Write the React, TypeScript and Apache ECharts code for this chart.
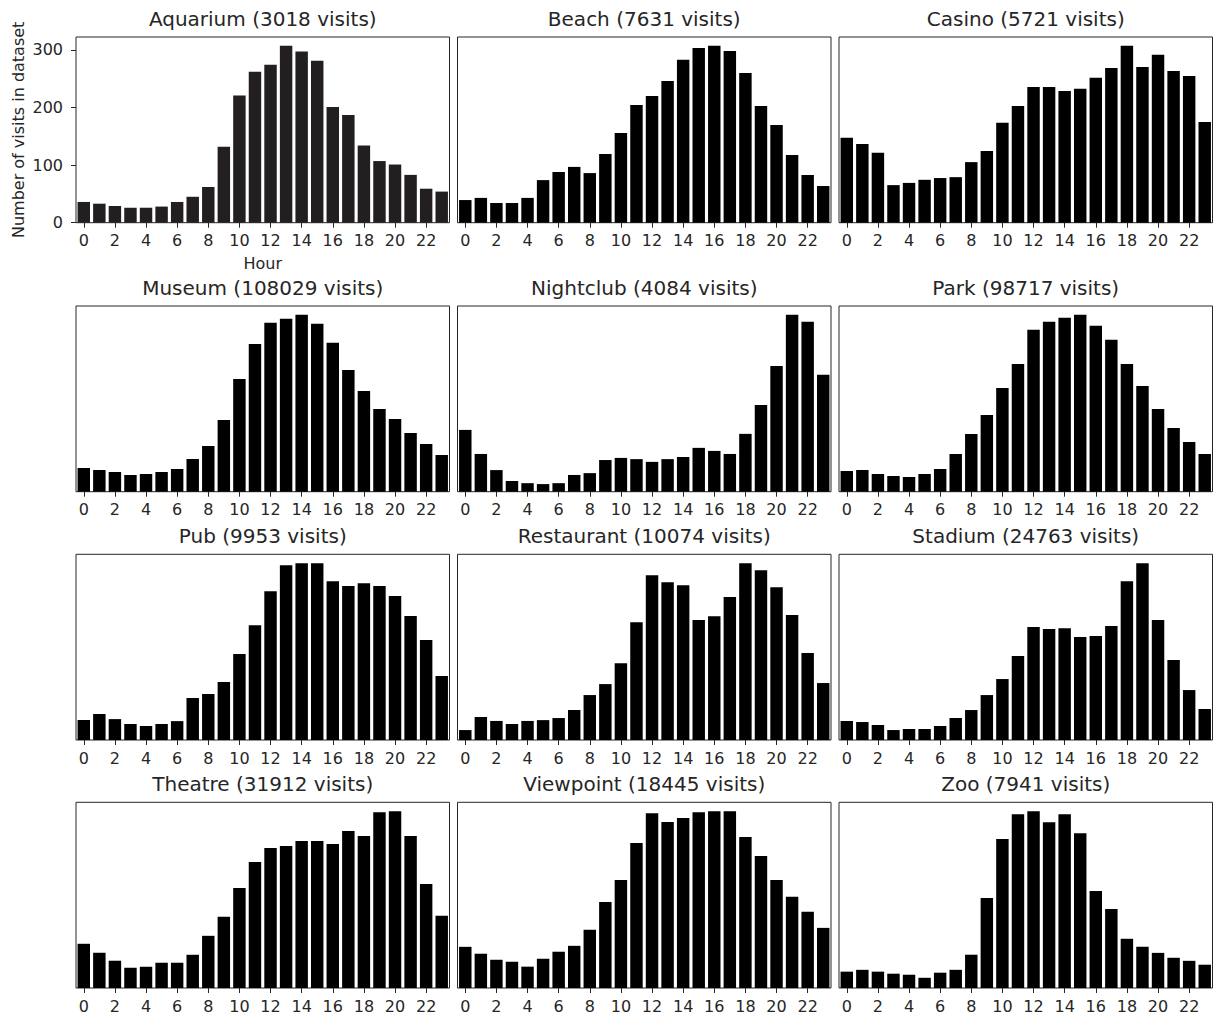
import React, { useEffect, useRef } from 'react';
import * as echarts from 'echarts';

const hours = ['0','1','2','3','4','5','6','7','8','9','10','11','12','13','14','15','16','17','18','19','20','21','22','23'];
const places = ['Aquarium','Beach','Casino','Museum','Nightclub','Park','Pub','Restaurant','Stadium','Theatre','Viewpoint','Zoo'];
const totals = [3018, 7631, 5721, 108029, 4084, 98717, 9953, 10074, 24763, 31912, 18445, 7941];

const aquarium = [36,33,29,26,26,28,36,45,62,132,221,262,274,307,297,281,201,187,134,107,101,83,59,54];
const beach = [84,92,73,73,92,158,188,207,184,255,333,437,470,526,604,648,656,637,555,433,362,251,177,136];
const casino = [192,178,158,85,90,97,101,103,137,162,226,264,307,307,298,303,328,350,400,352,380,343,332,228];
const museum = [1341,1227,1114,944,1001,1114,1284,1851,2587,4060,6382,8365,9555,9781,10008,9498,8422,6892,5703,4683,4116,3323,2700,2077];
const nightclub = [203,124,71,35,28,25,28,55,61,104,111,107,98,107,114,144,134,124,190,285,413,581,558,384];
const park = [1020,1069,872,773,724,872,1119,1859,2846,3784,5117,6301,7980,8375,8572,8720,8177,7486,6301,5216,4080,3143,2452,1859];
const pub = [90,117,94,72,63,72,85,189,207,261,387,517,670,787,796,796,715,693,706,693,648,558,450,288];
const restaurant = [48,111,92,77,92,96,106,145,217,270,371,569,796,762,747,579,598,690,854,820,738,603,420,275];
const stadium = [292,276,230,153,169,169,215,338,460,690,936,1289,1734,1703,1718,1580,1596,1749,2439,2716,1841,1227,767,476];
const theatre = [616,491,380,282,296,352,352,463,727,991,1394,1755,1950,1977,2047,2047,2005,2186,2116,2450,2464,2116,1450,1005];
const viewpoint = [328,273,225,209,170,233,289,336,464,686,861,1155,1393,1322,1354,1401,1409,1409,1203,1052,861,726,607,479];
const zoo = [80,89,80,70,65,50,75,89,163,441,729,851,866,812,851,758,475,387,241,202,172,148,133,114];

const yTicks = [0, 100, 200, 300];
const allData = [aquarium, beach, casino, museum, nightclub, park, pub, restaurant, stadium, theatre, viewpoint, zoo];

const FONT = 'DejaVu Sans';
const INK = '#262626';

export default function App() {
  const ref = useRef<HTMLDivElement>(null);
  useEffect(() => {
    if (!ref.current) return;
    const chart = echarts.init(ref.current, null, { renderer: 'svg' });
    const colLefts = [76, 457.5, 839];
    const rowTops = [37, 306, 554.3, 802.3];
    const W = 373.5;
    const H = 185.7;
    const grids: any[] = [];
    const xAxes: any[] = [];
    const yAxes: any[] = [];
    const series: any[] = [];
    const titles: any[] = [];
    allData.forEach((d, i) => {
      const r = Math.floor(i / 3);
      const c = i % 3;
      const first = i === 0;
      grids.push({
        left: colLefts[c], top: rowTops[r], width: W, height: H,
        show: true, borderColor: INK, borderWidth: 1, backgroundColor: 'transparent',
      });
      xAxes.push({
        type: 'category', gridIndex: i, data: hours, boundaryGap: true,
        axisLine: { show: false },
        axisTick: { show: true, alignWithLabel: true, interval: 1, length: 5, lineStyle: { color: INK, width: 1 } },
        axisLabel: { interval: 1, fontSize: 16, color: INK, fontFamily: FONT, margin: 10 },
        name: first ? 'Hour' : '',
        nameLocation: 'middle', nameGap: 33,
        nameTextStyle: { fontSize: 16, color: INK, fontFamily: FONT },
        splitLine: { show: false },
      });
      const mx = Math.max(...d) * 1.05;
      yAxes.push({
        type: 'value', gridIndex: i, min: 0, max: mx,
        splitLine: { show: false },
        axisLine: { show: false },
        axisTick: first ? { show: true, length: 5, customValues: yTicks, lineStyle: { color: INK } } : { show: false },
        axisLabel: first ? { show: true, fontSize: 16, color: INK, fontFamily: FONT, margin: 13, customValues: yTicks } : { show: false },
        name: first ? 'Number of visits in dataset' : '',
        nameLocation: 'middle', nameRotate: 90, nameGap: 50,
        nameTextStyle: { fontSize: 16, color: INK, fontFamily: FONT },
      });
      series.push({
        type: 'bar', xAxisIndex: i, yAxisIndex: i, data: d,
        barCategoryGap: '20%',
        itemStyle: { color: first ? '#231f20' : '#000000' },
      });
      titles.push({
        text: `${places[i]} (${totals[i]} visits)`,
        left: colLefts[c] + W / 2, top: rowTops[r] - 28, textAlign: 'center',
        textStyle: { fontSize: 20, fontWeight: 'normal', color: INK, fontFamily: FONT },
        padding: 0,
      });
    });
    chart.setOption({
      animation: false,
      backgroundColor: '#ffffff',
      title: titles,
      grid: grids,
      xAxis: xAxes,
      yAxis: yAxes,
      series,
    });
    return () => chart.dispose();
  }, []);
  return <div ref={ref} style={{ position: 'fixed', left: 0, top: 0, width: 1213, height: 1017 }} />;
}
